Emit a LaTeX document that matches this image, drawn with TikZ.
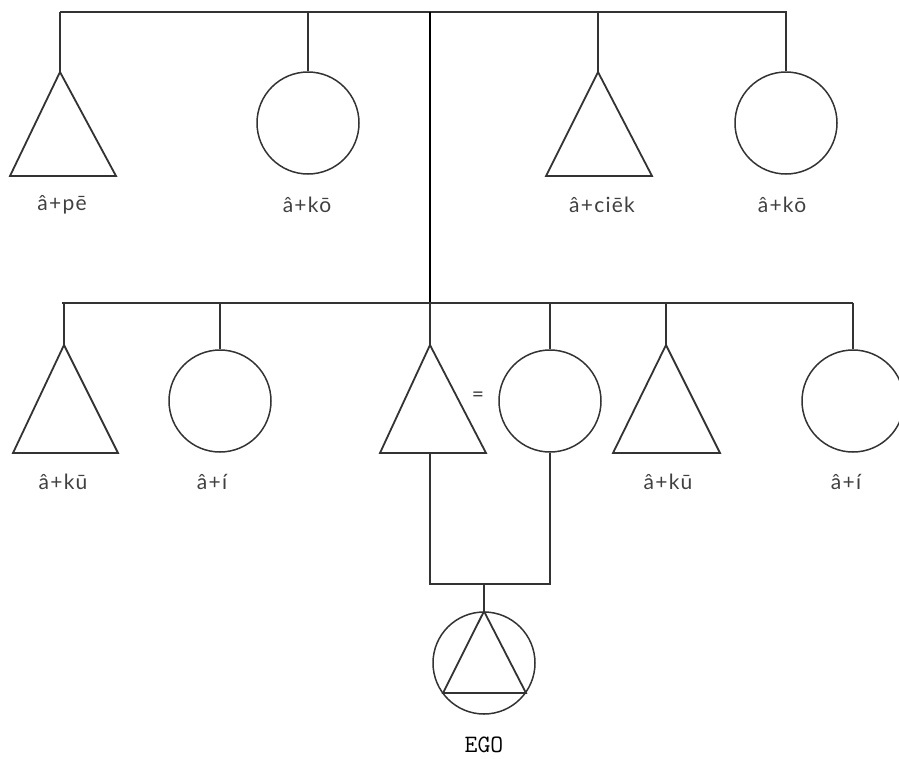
\documentclass[tikz,border=0pt]{standalone}
\usepackage{fontspec}
\newfontfamily\kinfont[LetterSpace=6]{Lato}
\usepackage{tikz}

\begin{document}
\begin{tikzpicture}[x=1pt, y=-1pt]
	\tikzset{line/.style = {draw = black!80, line width = 1.8pt},
		female/.style = {shape=circle, draw = black!80, line width = 1.5pt, minimum size = 102pt, inner sep = 0pt},
		kinterm/.style = {text = black!75, font = \kinfont\fontsize{21}{24}\selectfont, inner sep = 0pt}}
	\useasboundingbox (0,0) rectangle (899,758);
	
	% first generation
	\coordinate (top_l) at (60,12);
	\coordinate (top_r) at (787,12);
	\coordinate (pe) at (60,72);
	\draw[line] (pe) -- ++(-50,104) -- ++(106,0) -- cycle;
	\node[kinterm] (label_pe) at (62,205) {â+pē};
	\node[female] (koA) at (308,123) {};
	\node[kinterm] (label_koA) at (307,205) {â+kō};
	\coordinate (ciek) at (598,72);
	\draw[line] (ciek) -- ++(-52,104) -- ++(106,0) -- cycle;
	\node[kinterm] (label_ciek) at (602,205) {â+ciēk};
	\node[female] (koB) at (786,123) {};
	\node[kinterm] (label_koB) at (782,205) {â+kō};
	
	\draw[line] (top_l) -- (top_r);
	\draw[line] (pe |- top_l) -- (pe);
	\draw[line] (koA.north |- top_l) -- (koA.north);
	\draw[line] (ciek |- top_l) -- (ciek);
	\draw[line] (koB.north |- top_l) -- (koB.north);
	
	% second generation
	\coordinate (mid_l) at (62,303);
	\coordinate (mid_r) at (853,303);
	\draw[black, line width = 1.6pt] (430,12) -- (430,303);
	\draw[line] (mid_l) -- (mid_r);
	
	\coordinate (kuA) at (64,345);
	\draw[line] (kuA) -- ++(-51,108) -- ++(105,0) -- cycle;
	\node[kinterm] (label_kuA) at (63,482) {â+kū};
	\node[female] (iA) at (220,401) {};
	\node[kinterm] (label_iA) at (212,482) {â+í};
	\coordinate (father) at (430,345);
	\draw[line] (father) -- ++(-50,108) -- ++(106,0) -- cycle;
	\node[kinterm] (eq) at (478,397) {=};
	\node[female] (mother) at (550,401) {};
	\coordinate (kuB) at (666,345);
	\draw[line] (kuB) -- ++(-53,108) -- ++(107,0) -- cycle;
	\node[kinterm] (label_kuB) at (668,482) {â+kū};
	\node[female] (iB) at (853,401) {};
	\node[kinterm] (label_iB) at (846,482) {â+í};
	
	\draw[line] (kuA |- mid_l) -- (kuA);
	\draw[line] (iA.north |- mid_l) -- (iA.north);
	\draw[line] (father |- mid_l) -- (father);
	\draw[line] (mother.north |- mid_l) -- (mother.north);
	\draw[line] (kuB |- mid_l) -- (kuB);
	\draw[line] (iB.north |- mid_l) -- (iB.north);
	
	% ego
	\coordinate (father_base) at (430,453);
	\coordinate (sibs) at (484,584);
	\node[female] (ego) at (484,663) {};
	\draw[line] (ego.north) -- (443,693) -- (526,693) -- cycle;
	\node[inner sep = 0pt, font = \ttfamily\fontsize{25}{28}\selectfont] (label_ego) at (484,745) {EGO};
	
	\draw[line] (father_base) -- (father_base |- sibs) -| (mother.south);
	\draw[line] (sibs) -- (ego.north);
	
\end{tikzpicture}
\end{document}
